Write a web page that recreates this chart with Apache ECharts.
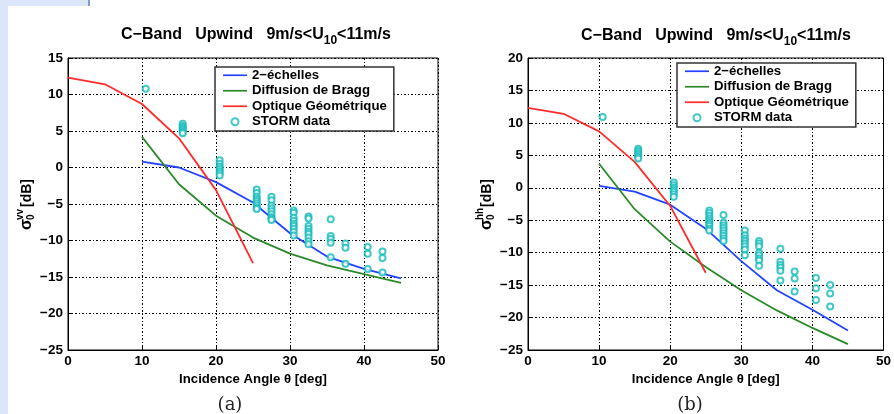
<!DOCTYPE html>
<html><head><meta charset="utf-8">
<script src="https://cdn.jsdelivr.net/npm/echarts@6/dist/echarts.min.js"></script>
<style>html,body{margin:0;padding:0;background:#fff}#c{width:894px;height:414px}</style>
</head><body><div id="c"></div>
<script>
// ---- data ----
const modelAngles = [10, 15, 20, 25, 30, 35, 40, 45];
const goAngles = [0, 5, 10, 15, 20, 25];
const twoScaleVV = [0.8, 0.0, -2.0, -4.8, -9.0, -12.2, -13.9, -15.2];
const braggVV = [4.2, -2.3, -6.6, -9.6, -11.8, -13.4, -14.6, -15.8];
const goVV = [12.3, 11.4, 8.7, 4.0, -3.1, -13.1];
const twoScaleHH = [0.3, -0.6, -2.6, -6.3, -11.3, -15.8, -18.8, -22.0];
const braggHH = [3.7, -3.3, -8.3, -12.2, -15.8, -18.9, -21.6, -24.1];
const goHH = [12.3, 11.4, 8.7, 4.0, -2.8, -13.1];
const stormAngles = [10.5, 15.5, 20.5, 25.5, 27.5, 30.5, 32.5, 35.5, 37.5, 40.5, 42.5];
const stormVV = [
  [10.8],
  [6.0, 5.7, 5.5, 5.3, 5.1, 4.9, 4.7],
  [1.0, 0.5, 0.1, -0.2, -0.5, -0.8, -1.1],
  [-3.0, -3.5, -4.0, -4.3, -4.6, -4.9, -5.2, -5.5, -5.7],
  [-4.0, -4.5, -5.2, -5.6, -6.0, -6.4, -6.8, -7.0, -7.2],
  [-5.9, -6.2, -6.9, -7.3, -7.7, -8.0, -8.4, -8.8, -9.3],
  [-6.7, -7.0, -8.0, -8.4, -8.8, -9.1, -9.6, -10.1, -10.5],
  [-7.1, -9.4, -9.8, -10.3, -12.3],
  [-10.4, -11.0, -13.2],
  [-10.9, -11.8, -13.9],
  [-11.5, -12.4, -14.4]
];
const stormHH = [
  [10.9],
  [6.0, 5.7, 5.4, 5.1, 4.8, 4.5],
  [0.8, 0.4, 0.0, -0.3, -0.6, -1.0, -1.4],
  [-3.5, -3.9, -4.3, -4.7, -5.0, -5.3, -5.6, -5.9, -6.3, -6.6],
  [-4.2, -5.4, -5.8, -6.2, -6.6, -7.0, -7.4, -7.8, -8.2],
  [-6.6, -7.3, -7.8, -8.2, -8.6, -9.0, -9.5, -10.4],
  [-8.2, -8.6, -9.0, -10.0, -10.4, -10.9, -11.2, -12.0],
  [-9.4, -11.4, -11.9, -12.3, -12.8, -14.3],
  [-12.9, -14.0, -16.0],
  [-13.9, -15.5, -17.3],
  [-15.0, -16.3, -18.3]
];
const seriesNames = ['2−échelles', 'Diffusion de Bragg', 'Optique Géométrique', 'STORM data'];
const xRange = [0, 50];
const yRangeVV = [-25, 15];
const yRangeHH = [-25, 20];

// ---- styles ----
const FONT = 'Liberation Sans';
const COL = { blue: '#2244ff', green: '#2a8a2a', red: '#ff2a2a', cyan: '#14baba' };
const pairs = (xs, ys) => xs.map((x, i) => [x, ys[i]]);
const stormPts = (arr) => { const out = []; stormAngles.forEach((a, i) => arr[i].forEach(v => out.push([a, v]))); return out; };
const minus = v => String(v).replace('-', '−');
const LINE_ICON = 'path://M0,0 H24 V1.7 H0 Z';

function xAxis(gi) {
  return {
    type: 'value', gridIndex: gi, min: xRange[0], max: xRange[1], interval: 10,
    name: 'Incidence Angle θ [deg]', nameLocation: 'middle', nameGap: 16,
    nameTextStyle: { fontFamily: FONT, fontWeight: 'bold', fontSize: 13.2, color: '#000' },
    axisLine: { show: true, onZero: false, lineStyle: { color: '#000', width: 1 } },
    axisTick: { inside: true, length: 4, lineStyle: { color: '#000' } },
    axisLabel: { fontFamily: FONT, fontWeight: 'bold', fontSize: 13.5, color: '#000', margin: 4, formatter: minus },
    splitLine: { show: true, lineStyle: { color: '#000', width: 1, type: [2, 2, 1, 2] } }
  };
}
function yAxis(gi, r) {
  return {
    type: 'value', gridIndex: gi, min: r[0], max: r[1], interval: 5,
    axisLine: { show: true, onZero: false, lineStyle: { color: '#000', width: 1 } },
    axisTick: { inside: true, length: 4, lineStyle: { color: '#000' } },
    axisLabel: { fontFamily: FONT, fontWeight: 'bold', fontSize: 13.5, color: '#000', margin: 5, formatter: minus },
    splitLine: { show: true, lineStyle: { color: '#000', width: 1, type: [2, 2, 1, 2] } }
  };
}
function lineSeries(name, gi, data, color) {
  return { name, type: 'line', xAxisIndex: gi, yAxisIndex: gi, data, symbol: 'none',
    lineStyle: { color, width: 1.8 }, itemStyle: { color }, z: 3, animation: false };
}
function stormSeries(gi, data) {
  return { name: 'STORM data', type: 'scatter', xAxisIndex: gi, yAxisIndex: gi, data,
    symbol: 'emptyCircle', symbolSize: 6,
    itemStyle: { color: COL.cyan, borderColor: COL.cyan, borderWidth: 2.3 }, z: 4, animation: false };
}
function legend(left, top) {
  return {
    data: [
      { name: seriesNames[0], icon: LINE_ICON },
      { name: seriesNames[1], icon: LINE_ICON },
      { name: seriesNames[2], icon: LINE_ICON },
      { name: seriesNames[3] }
    ],
    orient: 'vertical', left, top,
    backgroundColor: '#fff', borderColor: '#333', borderWidth: 1.5, borderRadius: 0,
    padding: [1, 7, 2, 8], itemGap: 1, itemWidth: 24, itemHeight: 7,
    textStyle: { fontFamily: FONT, fontWeight: 'bold', fontSize: 13.2, color: '#000', lineHeight: 14.5 },
    selectedMode: false
  };
}
const titleRich = {
  a: { fontFamily: FONT, fontWeight: 'bold', fontSize: 16, color: '#000', verticalAlign: 'top', lineHeight: 18 },
  s: { fontFamily: FONT, fontWeight: 'bold', fontSize: 12, color: '#000', verticalAlign: 'top', lineHeight: 18, padding: [8, 0, 0, 0] }
};
const titleText = '{a|C−Band   Upwind   9m/s<U}{s|10}{a|<11m/s}';

function yLabel(x, yc, sup) {
  return {
    type: 'group', x, y: yc, rotation: Math.PI / 2,
    children: [
      { type: 'text', x: -27, y: 0, style: { text: 'σ', font: 'bold 16px "Liberation Sans"', fill: '#000', align: 'left', verticalAlign: 'middle' } },
      { type: 'text', x: -17, y: 4, style: { text: '0', font: 'bold 10px "Liberation Sans"', fill: '#000', align: 'left', verticalAlign: 'middle' } },
      { type: 'text', x: -17, y: -7, style: { text: sup, font: 'bold 10px "Liberation Sans"', fill: '#000', align: 'left', verticalAlign: 'middle' } },
      { type: 'text', x: -4, y: 0, style: { text: '[dB]', font: 'bold 14px "Liberation Sans"', fill: '#000', align: 'left', verticalAlign: 'middle' } }
    ]
  };
}

const option = {
  backgroundColor: '#fff',
  animation: false,
  title: [
    { text: titleText, left: 251, top: 22, textAlign: 'center', textStyle: { rich: titleRich } },
    { text: titleText, left: 711, top: 23, textAlign: 'center', textStyle: { rich: titleRich } }
  ],
  grid: [
    { left: 68, top: 58, width: 370, height: 292, show: true, borderColor: '#000', borderWidth: 1, backgroundColor: 'transparent' },
    { left: 528, top: 58, width: 373, height: 292, show: true, borderColor: '#000', borderWidth: 1, backgroundColor: 'transparent' }
  ],
  xAxis: [xAxis(0), xAxis(1)],
  yAxis: [yAxis(0, yRangeVV), yAxis(1, yRangeHH)],
  legend: [legend(215, 67), legend(677, 63)],
  series: [
    lineSeries(seriesNames[0], 0, pairs(modelAngles, twoScaleVV), COL.blue),
    lineSeries(seriesNames[1], 0, pairs(modelAngles, braggVV), COL.green),
    lineSeries(seriesNames[2], 0, pairs(goAngles, goVV), COL.red),
    stormSeries(0, stormPts(stormVV)),
    lineSeries(seriesNames[0], 1, pairs(modelAngles, twoScaleHH), COL.blue),
    lineSeries(seriesNames[1], 1, pairs(modelAngles, braggHH), COL.green),
    lineSeries(seriesNames[2], 1, pairs(goAngles, goHH), COL.red),
    stormSeries(1, stormPts(stormHH))
  ],
  graphic: [
    { type: 'rect', shape: { x: 0, y: 0, width: 8, height: 414 }, style: { fill: '#dbe6fa' }, z: -10 },
    { type: 'rect', shape: { x: 0, y: 0, width: 88, height: 6 }, style: { fill: '#dbe6fa' }, z: -10 },
    { type: 'rect', shape: { x: 88, y: 0, width: 2, height: 6 }, style: { fill: '#7f9bd0' }, z: -10 },
    yLabel(27, 203, 'vv'),
    yLabel(487, 203, 'hh'),
    { type: 'text', x: 230, y: 405, style: { text: '(a)', font: '18px "DejaVu Serif"', fill: '#222', align: 'center', verticalAlign: 'middle' } },
    { type: 'text', x: 690, y: 405, style: { text: '(b)', font: '18px "DejaVu Serif"', fill: '#222', align: 'center', verticalAlign: 'middle' } }
  ]
};
const chart = echarts.init(document.getElementById('c'), null, { renderer: 'canvas' });
chart.setOption(option);
</script>
</body></html>
